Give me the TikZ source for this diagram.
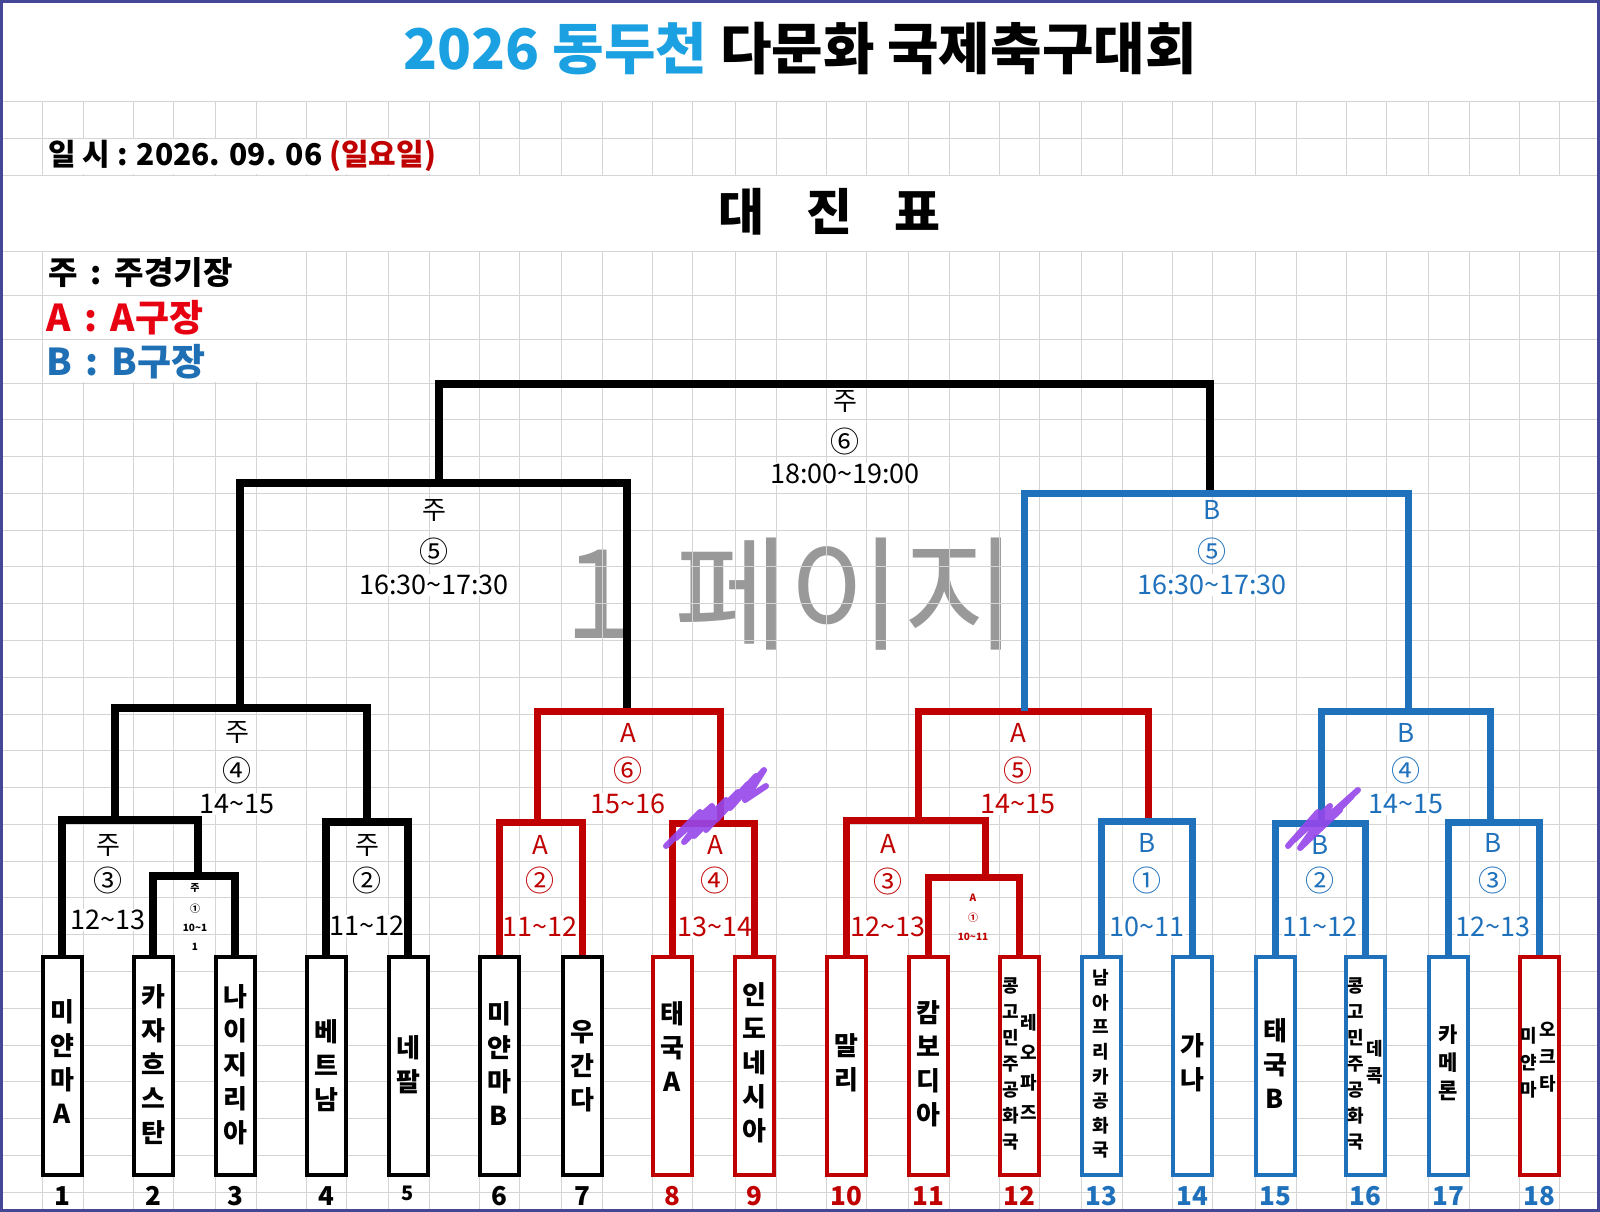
\documentclass[tikz,border=0pt]{standalone}
\usepackage{fontspec}
\setmainfont{Noto Sans CJK KR}
\usetikzlibrary{positioning}

\definecolor{kred}{RGB}{192,0,0}
\definecolor{kblue}{RGB}{31,113,187}
\definecolor{ttlblue}{RGB}{27,161,226}
\definecolor{lgred}{RGB}{230,0,18}
\definecolor{lgblue}{RGB}{31,111,181}
\definecolor{gridc}{RGB}{212,212,212}
\definecolor{framec}{RGB}{70,70,150}
\definecolor{scribc}{RGB}{150,70,235}

\begin{document}
\begin{tikzpicture}[x=1pt,y=-1pt]

% Define styles
\tikzstyle{grid}=[draw=gridc, line width=0.9pt]
\tikzstyle{team}=[draw, line width=4pt, fill=white, minimum width=39pt, minimum height=218pt, inner sep=0pt]
\tikzstyle{bigname}=[font=\fontsize{26}{34}\selectfont\bfseries, align=center, inner sep=0pt]
\tikzstyle{midname}=[font=\fontsize{21}{28}\selectfont\bfseries, align=center, inner sep=0pt]
\tikzstyle{smallname}=[font=\fontsize{18}{26}\selectfont\bfseries, align=center, inner sep=0pt]
\tikzstyle{kline}=[line width=7.5pt, black]
\tikzstyle{aline}=[line width=7pt, kred]
\tikzstyle{bline}=[line width=7pt, kblue]
\tikzstyle{lab}=[font=\fontsize{26}{26}\selectfont, inner sep=0pt]
\tikzstyle{circ}=[font=\fontsize{29}{29}\selectfont, inner sep=0pt]
\tikzstyle{tlab}=[font=\fontsize{27}{27}\selectfont, fill=white, inner sep=1pt]
\tikzstyle{tiny}=[font=\fontsize{10}{10}\selectfont\bfseries, inner sep=0pt]
\tikzstyle{scrib}=[scribc, line width=6pt, line cap=round, line join=round, opacity=0.9]

% Parameters
\def\boxy{1066}
\def\colw{173.3}

\useasboundingbox (0,0) rectangle (1600,1212);
\fill[white] (0,0) rectangle (1600,1212);

% Watermark
\node[font=\fontsize{124}{124}\selectfont, text=black!40] (wm1) at (599,594) {1};
\node[font=\fontsize{124}{124}\selectfont, text=black!40] (wm2) at (846,594) {페이지};

% Grid
\foreach \k in {0,...,8} {
  \foreach \o in {0,41,91,131} {
    \draw[grid] (42+\colw*\k+\o,101) -- (42+\colw*\k+\o,175);
    \draw[grid] (42+\colw*\k+\o,251) -- (42+\colw*\k+\o,1212);
  }
}
\fill[white] (44,139) rectangle (462,174);
\fill[white] (44,252) rectangle (303,382);
\foreach \y in {101,138,175,251,295,339} \draw[grid] (0,\y) -- (1600,\y);
\foreach \n in {0,...,22} \draw[grid] (0,383+36.78*\n) -- (1600,383+36.78*\n);

% Header
\node[font=\fontsize{56}{56}\selectfont\bfseries] (title) at (800,49)
  {\textcolor{ttlblue}{2026 동두천} 다문화 국제축구대회};
\node[font=\fontsize{30}{30}\selectfont\bfseries, anchor=west, inner sep=0pt] (date) at (48,156)
  {일 시 : 2026. 09. 06 \textcolor{kred}{(일요일)}};
\node[font=\fontsize{50}{50}\selectfont\bfseries] (head) at (829,212) {대\hspace{42pt}진\hspace{42pt}표};

% Legend
\node[font=\fontsize{32}{32}\selectfont\bfseries, anchor=west, inner sep=0pt] (lg1) at (48,273)
  {주\hspace{13pt}:\hspace{13pt}주경기장};
\node[font=\fontsize{37}{37}\selectfont\bfseries, anchor=west, inner sep=0pt, text=lgred] (lg2) at (46,318)
  {A\hspace{14pt}:\hspace{13pt}A구장};
\node[font=\fontsize{37}{37}\selectfont\bfseries, anchor=west, inner sep=0pt, text=lgblue] (lg3) at (46,362)
  {B\hspace{14pt}:\hspace{13pt}B구장};

% Match labels: field, game number, time
\foreach \x/\ya/\yb/\yc/\c/\lt/\cn/\tm [count=\i] in {
  108/845/880/920/black/주/③/12\textasciitilde 13,
  367/845/880/926/black/주/②/11\textasciitilde 12,
  237/732/770/804/black/주/④/14\textasciitilde 15,
  434/510/551/585/black/주/⑤/16:30\textasciitilde 17:30,
  845/401/441/474/black/주/⑥/18:00\textasciitilde 19:00,
  540/845/880/927/kred/A/②/11\textasciitilde 12,
  715/845/880/927/kred/A/④/13\textasciitilde 14,
  628/733/770/804/kred/A/⑥/15\textasciitilde 16,
  888/844/881/927/kred/A/③/12\textasciitilde 13,
  1018/733/770/804/kred/A/⑤/14\textasciitilde 15,
  1147/843/880/927/kblue/B/①/10\textasciitilde 11,
  1320/845/880/927/kblue/B/②/11\textasciitilde 12,
  1493/843/880/927/kblue/B/③/12\textasciitilde 13,
  1406/733/770/804/kblue/B/④/14\textasciitilde 15,
  1212/510/551/585/kblue/B/⑤/16:30\textasciitilde 17:30} {
  \node[lab, text=\c] (ml\i) at (\x,\ya) {\lt};
  \node[circ, text=\c] (mc\i) at (\x,\yb) {\cn};
  \node[tlab, text=\c] (mt\i) at (\x,\yc) {\tm};
}
% small first-round labels
\node[tiny] (s1) at (195,888) {주};
\node[tiny] (s2) at (195,909) {①};
\node[tiny] (s3) at (195,928) {10\textasciitilde 1};
\node[tiny] (s4) at (195,947) {1};
\node[tiny, text=kred] (s5) at (973,898) {A};
\node[tiny, text=kred] (s6) at (973,918) {①};
\node[tiny, text=kred] (s7) at (973,937) {10\textasciitilde 11};

% Team boxes
\foreach \i/\x/\c in {1/62/black,2/153/black,3/235/black,4/326/black,5/408/black,
  6/499/black,7/582/black,8/672/kred,9/754/kred,10/846/kred,11/928/kred,12/1019/kred,
  13/1101/kblue,14/1192/kblue,15/1275/kblue,16/1365/kblue,17/1448/kblue,18/1539/kred}
  \node[team, draw=\c] (t\i) at (\x,\boxy) {};

% Team names
\foreach \i/\x/\y/\f/\txt in {
  1/62/1062/bigname/{미\\얀\\마\\A},
  2/153/1065/bigname/{카\\자\\흐\\스\\탄},
  3/235/1065/bigname/{나\\이\\지\\리\\아},
  4/326/1066/bigname/{베\\트\\남},
  5/408/1065/bigname/{네\\팔},
  6/499/1064/bigname/{미\\얀\\마\\B},
  7/582/1066/bigname/{우\\간\\다},
  8/672/1047/bigname/{태\\국\\A},
  9/754/1063/bigname/{인\\도\\네\\시\\아},
  10/846/1063/bigname/{말\\리},
  11/928/1064/bigname/{캄\\보\\디\\아},
  12/1011/1064/smallname/{콩\\고\\민\\주\\공\\화\\국},
  14/1192/1063/bigname/{가\\나},
  15/1275/1064/bigname/{태\\국\\B},
  16/1356/1064/smallname/{콩\\고\\민\\주\\공\\화\\국},
  17/1448/1063/midname/{카\\메\\론}}
  \node[\f] (n\i) at (\x,\y) {\txt};
\node[smallname, font=\fontsize{18}{24.6}\selectfont\bfseries] (n13) at (1101,1064) {남\\아\\프\\리\\카\\공\\화\\국};
\node[smallname, font=\fontsize{18}{30}\selectfont\bfseries] (n12b) at (1029,1067) {레\\오\\파\\즈};
\node[smallname, font=\fontsize{18}{27}\selectfont\bfseries] (n16b) at (1375,1062) {데\\콕};
\node[smallname, font=\fontsize{18}{27}\selectfont\bfseries] (n18) at (1529,1063) {미\\얀\\마};
\node[smallname, font=\fontsize{18}{27}\selectfont\bfseries] (n18b) at (1548,1057) {오\\크\\타};

% Team numbers
\foreach \i/\c/\s in {1/black/26,2/black/26,3/black/26,4/black/26,5/black/20,6/black/26,
  7/black/26,8/kred/26,9/kred/26,10/kred/26,11/kred/26,12/kred/26,13/kblue/26,
  14/kblue/26,15/kblue/26,16/kblue/26,17/kblue/26,18/kblue/26}
  \node[font=\fontsize{\s}{\s}\selectfont\bfseries, inner sep=0pt, text=\c, below=9pt of t\i] (nb\i) {\i};

% Bracket junctions
\coordinate (k1) at (198,876);
\coordinate (k3) at (115,820);
\coordinate (k2) at (367,822);
\coordinate (k4) at (240,708);
\coordinate (k5) at (439,483);
\coordinate (kf) at (845,384);
\coordinate (a2) at (537,822);
\coordinate (a4) at (720,823);
\coordinate (a6) at (627,711);
\coordinate (a1) at (985,877);
\coordinate (a3) at (918,820);
\coordinate (a5) at (1024,711);
\coordinate (b1) at (1148,821);
\coordinate (b2) at (1321,823);
\coordinate (b3) at (1490,822);
\coordinate (b4) at (1408,711);
\coordinate (b5) at (1210,493);

% Main field (black)
\draw[kline] (t2.north) |- (k1) -| (t3.north);
\draw[kline] (t1.north) |- (k3) -| (k1);
\draw[kline] (t4.north) |- (k2) -| (t5.north);
\draw[kline] (k3) |- (k4) -| (k2);
\draw[kline] (k4) |- (k5) -| (a6);
\draw[kline] (k5) |- (kf) -| (b5);

% Field A (red)
\draw[aline] (t6.north) |- (a2) -| (t7.north);
\draw[aline] (t8.north) |- (a4) -| (t9.north);
\draw[aline] (a2) |- (a6) -| (a4);
\draw[aline] (t11.north) |- (a1) -| (t12.north);
\draw[aline] (t10.north) |- (a3) -| (a1);
\draw[aline] (a3) |- (a5) -| (b1);

% Field B (blue)
\draw[bline] (t13.north) |- (b1) -| (t14.north);
\draw[bline] (t15.north) |- (b2) -| (t16.north);
\draw[bline] (t17.north) |- (b3) -| (t18.north);
\draw[bline] (b2) |- (b4) -| (b3);
\draw[bline] (a5) |- (b5) -| (b4);

% Scribbles
\draw[scrib] (666,846) -- (700,812) -- (676,838) -- (712,806) -- (684,842) -- (726,800)
  -- (694,836) -- (738,792) -- (706,830) -- (748,784) -- (716,820) -- (756,776)
  -- (730,808) -- (764,770) -- (745,800) -- (766,786);
\draw[scrib] (1288,846) -- (1318,812) -- (1294,840) -- (1330,806) -- (1300,848)
  -- (1340,810) -- (1312,836) -- (1352,796) -- (1322,822) -- (1358,790);

% Frame
\draw[framec, line width=2.5pt] (1.5,1.5) rectangle (1598.5,1210.5);

\end{tikzpicture}
\end{document}
